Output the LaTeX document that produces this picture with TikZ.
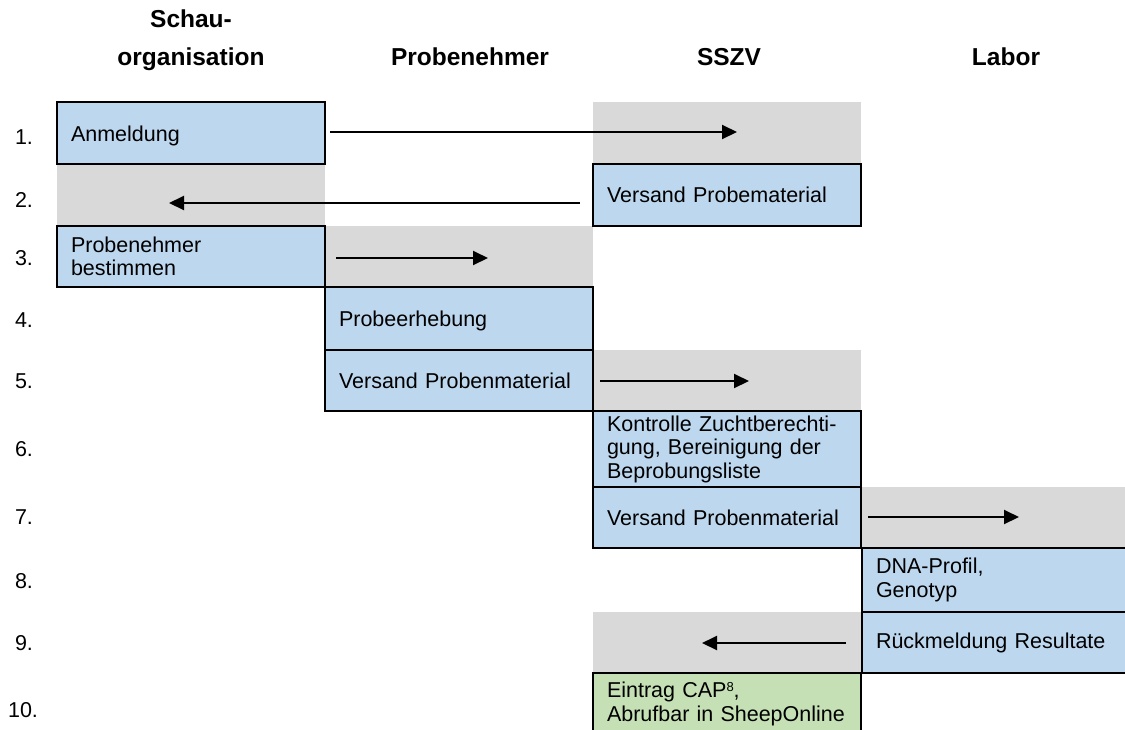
\documentclass[tikz,border=0pt]{standalone}
\usepackage{fontspec}
\setmainfont{Liberation Sans}
\usetikzlibrary{arrows.meta}
\definecolor{bluebox}{HTML}{BDD7EE}
\definecolor{greybox}{HTML}{D9D9D9}
\definecolor{greenbox}{HTML}{C5E0B4}
\newcommand\diagbody{\fontsize{21.5}{23.5}\selectfont}
\newcommand\diagtitle{\fontsize{24.5}{27}\selectfont\bfseries}
\newcommand\diagsup[1]{\raisebox{6pt}{\fontsize{13}{13}\selectfont #1}}
\begin{document}
\begin{tikzpicture}[x=1pt,y=-1pt,
  cell/.style={rectangle, anchor=north west, outer sep=0pt,
    minimum width=268pt, minimum height=62pt, inner xsep=14pt, inner ysep=0pt,
    text width=240pt, align=left, font=\diagbody},
  widecell/.style={minimum width=300pt, text width=272pt},
  bluecell/.style={cell, draw=black, line width=2.2pt, fill=bluebox},
  greencell/.style={cell, draw=black, line width=2.2pt, fill=greenbox},
  greycell/.style={cell, fill=greybox},
  arr/.style={line width=2pt, -{Triangle[length=15pt,width=14pt]}},
  title/.style={anchor=base, inner sep=0pt, align=center, font=\diagtitle},
  num/.style={anchor=center, inner sep=0pt, font=\diagbody}
]
\useasboundingbox (0,0) rectangle (1125,729);

% column titles
\node[title, anchor=north] (t1) at (191,10) {Schau-\\[11pt]organisation};
\node[title] (t2) at (470,65) {Probenehmer};
\node[title] (t3) at (729,65) {SSZV};
\node[title] (t4) at (1006,65) {Labor};

% row numbers
\node[num] (n1) at (24,137) {1.};
\node[num] (n2) at (24,200) {2.};
\node[num] (n3) at (24,258) {3.};
\node[num] (n4) at (24,320) {4.};
\node[num] (n5) at (24,381) {5.};
\node[num] (n6) at (24,449) {6.};
\node[num] (n7) at (24,517) {7.};
\node[num] (n8) at (24,581) {8.};
\node[num] (n9) at (24,643) {9.};
\node[num] (n10) at (23,710) {10.};

% grey transfer cells
\node[greycell] (g1) at (593,102) {};
\node[greycell] (g2) at (57,164) {};
\node[greycell, minimum height=61pt] (g3) at (325,226) {};
\node[greycell, minimum height=61pt] (g5) at (593,350) {};
\node[greycell, widecell, minimum height=61pt] (g7) at (862,487) {};
\node[greycell, minimum height=61pt] (g9) at (593,612) {};

% process boxes
\node[bluecell] (b1) at (57,102) {\rule{0pt}{22pt}Anmeldung};
\node[bluecell] (b2) at (593,164) {Versand Probematerial};
\node[bluecell, minimum height=61pt] (b3) at (57,226) {Probenehmer\\bestimmen};
\node[bluecell, minimum height=63pt] (b4) at (325,287) {\rule{0pt}{20pt}Probeerhebung};
\node[bluecell, minimum height=61pt] (b5) at (325,350) {Versand Probenmaterial};
\node[bluecell, minimum height=76pt] (b6) at (593,411) {Kontrolle Zuchtberechti-\\gung, Bereinigung der\\Beprobungsliste};
\node[bluecell, minimum height=61pt] (b7) at (593,487) {Versand Probenmaterial};
\node[bluecell, widecell, minimum height=64pt] (b8) at (862,548) {DNA-Profil,\\Genotyp};
\node[bluecell, widecell, minimum height=61pt] (b9) at (862,612) {Rückmeldung Resultate};
\node[greencell, minimum height=62pt] (b10) at (593,673) {Eintrag CAP\diagsup{8},\\Abrufbar in SheepOnline};

% arrow end points
\coordinate (a1s) at (330,132);  \coordinate (a1e) at (737,132);
\coordinate (a2s) at (580,203);  \coordinate (a2e) at (169,203);
\coordinate (a3s) at (336,258);  \coordinate (a3e) at (488,258);
\coordinate (a5s) at (600,381);  \coordinate (a5e) at (749,381);
\coordinate (a7s) at (868,517);  \coordinate (a7e) at (1019,517);
\coordinate (a9s) at (846,643);  \coordinate (a9e) at (702,643);

\draw[arr] (a1s) -- (a1e);
\draw[arr] (a2s) -- (a2e);
\draw[arr] (a3s) -- (a3e);
\draw[arr] (a5s) -- (a5e);
\draw[arr] (a7s) -- (a7e);
\draw[arr] (a9s) -- (a9e);
\end{tikzpicture}
\end{document}
